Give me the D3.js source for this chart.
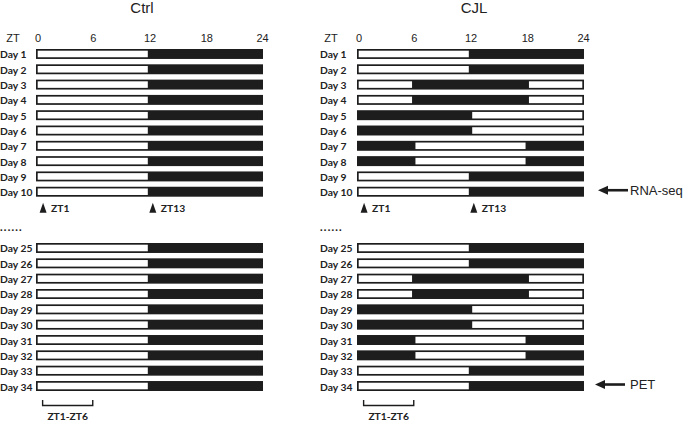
<!DOCTYPE html>
<html>
<head>
<meta charset="utf-8">
<script src="https://cdn.jsdelivr.net/npm/d3@7"></script>
<style>
  html, body { margin: 0; padding: 0; background: #fff; }
  svg { display: block; }
</style>
</head>
<body>
<svg id="chart" width="685" height="421"></svg>
<script>
// ---------------- data ----------------
const ztTicks = [0, 6, 12, 18, 24];
const daysTop = ["Day 1","Day 2","Day 3","Day 4","Day 5","Day 6","Day 7","Day 8","Day 9","Day 10"];
const daysBottom = ["Day 25","Day 26","Day 27","Day 28","Day 29","Day 30","Day 31","Day 32","Day 33","Day 34"];

// light periods (ZT hours) for each day; the rest of the day is dark
const ctrlLightTop = [[[0,12]],[[0,12]],[[0,12]],[[0,12]],[[0,12]],[[0,12]],[[0,12]],[[0,12]],[[0,12]],[[0,12]]];
const ctrlLightBottom = [[[0,12]],[[0,12]],[[0,12]],[[0,12]],[[0,12]],[[0,12]],[[0,12]],[[0,12]],[[0,12]],[[0,12]]];
const cjlLightTop = [[[0,12]],[[0,12]],[[0,6],[18,24]],[[0,6],[18,24]],[[12,24]],[[12,24]],[[6,18]],[[6,18]],[[0,12]],[[0,12]]];
const cjlLightBottom = [[[0,12]],[[0,12]],[[0,6],[18,24]],[[0,6],[18,24]],[[12,24]],[[12,24]],[[6,18]],[[6,18]],[[0,12]],[[0,12]]];

const markers = [{zt: 0.75, label: "ZT1"}, {zt: 12.35, label: "ZT13"}];
const bracketRange = [0.7, 6];
const bracketLabel = "ZT1-ZT6";
const panelTitles = ["Ctrl", "CJL"];
const arrowNotes = [{day: "Day 10", label: "RNA-seq"}, {day: "Day 34", label: "PET"}];

// ---------------- drawing ----------------
const svg = d3.select("#chart");
const DARK = "#1d1d1d";
const TXT = "#222";
const labelFont = "Lato, 'Open Sans', sans-serif";
const arial = "'Liberation Sans', Arial, sans-serif";

const yTop = d3.scaleBand().domain(daysTop).range([49, 196.7]).paddingInner(0.35).paddingOuter(0);
const yBottom = d3.scaleBand().domain(daysBottom).range([243, 391]).paddingInner(0.35).paddingOuter(0);

const panels = [
  {title: panelTitles[0], titleX: 142, x0: 36, x1: 263, labelX: 0, ztX: 13, top: ctrlLightTop, bottom: ctrlLightBottom, notes: false},
  {title: panelTitles[1], titleX: 474, x0: 357, x1: 584, labelX: 320, ztX: 331, top: cjlLightTop, bottom: cjlLightBottom, notes: true}
];

panels.forEach(p => {
  const x = d3.scaleLinear().domain([0, 24]).range([p.x0, p.x1]);
  const g = svg.append("g");

  // title
  g.append("text").attr("x", p.titleX).attr("y", 12.5)
    .attr("text-anchor", "middle").attr("font-family", arial).attr("font-size", 15)
    .attr("fill", TXT).text(p.title);

  // ZT header + ticks
  g.append("text").attr("x", p.ztX).attr("y", 42).attr("text-anchor", "middle")
    .attr("font-family", arial).attr("font-size", 11).attr("fill", TXT).text("ZT");
  const axis = d3.axisTop(x).tickValues(ztTicks).tickSize(0).tickPadding(0);
  const ag = g.append("g").attr("transform", "translate(0,42)").call(axis);
  ag.select(".domain").remove();
  ag.selectAll("text").attr("font-family", arial).attr("font-size", 11).attr("fill", TXT)
    .attr("dy", 0).attr("x", d => d === 0 ? 1.5 : (d === 24 ? -1 : 0));

  function drawGroup(days, lights, y) {
    days.forEach((d, i) => {
      const yy = y(d), h = y.bandwidth();
      g.append("text").attr("x", p.labelX).attr("y", yy + h / 2 + 0.5)
        .attr("dominant-baseline", "central").attr("font-family", labelFont)
        .attr("font-weight", "bold").attr("font-size", 10.3).attr("fill", TXT).text(d);
      g.append("rect").attr("x", x(0)).attr("y", yy).attr("width", x(24) - x(0)).attr("height", h)
        .attr("fill", DARK);
      lights[i].forEach(([a, b]) => {
        const ins = 1.7;
        g.append("rect").attr("x", x(a) + ins).attr("y", yy + ins)
          .attr("width", x(b) - x(a) - 2 * ins).attr("height", h - 2 * ins).attr("fill", "#fff");
      });
    });
  }
  drawGroup(daysTop, p.top, yTop);
  drawGroup(daysBottom, p.bottom, yBottom);

  // markers under Day 10
  const my = yTop(daysTop[9]) + yTop.bandwidth() + 6;
  markers.forEach(m => {
    const cx = x(m.zt);
    g.append("path").attr("d", `M${cx - 3.5},${my + 10}L${cx + 3.5},${my + 10}L${cx},${my}Z`).attr("fill", DARK);
    g.append("text").attr("x", cx + 8).attr("y", my + 5.5).attr("dominant-baseline", "central")
      .attr("font-family", labelFont).attr("font-weight", "bold").attr("font-size", 10.3)
      .attr("fill", TXT).text(m.label);
  });

  // dots separator
  g.append("text").attr("x", p.labelX).attr("y", 231).attr("font-family", labelFont)
    .attr("font-weight", "900").attr("font-size", 11).attr("fill", TXT).attr("letter-spacing", 1.2).text("......");

  // bracket
  const bx0 = x(bracketRange[0]), bx1 = x(bracketRange[1]);
  g.append("path").attr("d", `M${bx0},400V405.5H${bx1}V400`).attr("fill", "none")
    .attr("stroke", DARK).attr("stroke-width", 1.4);
  g.append("text").attr("x", (bx0 + bx1) / 2).attr("y", 415.5).attr("text-anchor", "middle")
    .attr("dominant-baseline", "central").attr("font-family", labelFont).attr("font-weight", "bold")
    .attr("font-size", 10.3).attr("fill", TXT).text(bracketLabel);

  // arrows
  if (p.notes) {
    arrowNotes.forEach((n, k) => {
      const y = (k === 0 ? yTop : yBottom);
      const cy = y(n.day) + y.bandwidth() / 2 - 1.5;
      const ax = k === 0 ? 598 : 595;
      g.append("path").attr("d", `M${ax},${cy}L${ax + 10},${cy - 4.5}L${ax + 10},${cy + 4.5}Z`).attr("fill", DARK);
      g.append("line").attr("x1", ax + 8).attr("x2", ax + 30).attr("y1", cy).attr("y2", cy)
        .attr("stroke", DARK).attr("stroke-width", 2.6);
      g.append("text").attr("x", 630).attr("y", cy).attr("dominant-baseline", "central")
        .attr("font-family", arial).attr("font-size", 13).attr("fill", TXT).text(n.label);
    });
  }
});
</script>
</body>
</html>
